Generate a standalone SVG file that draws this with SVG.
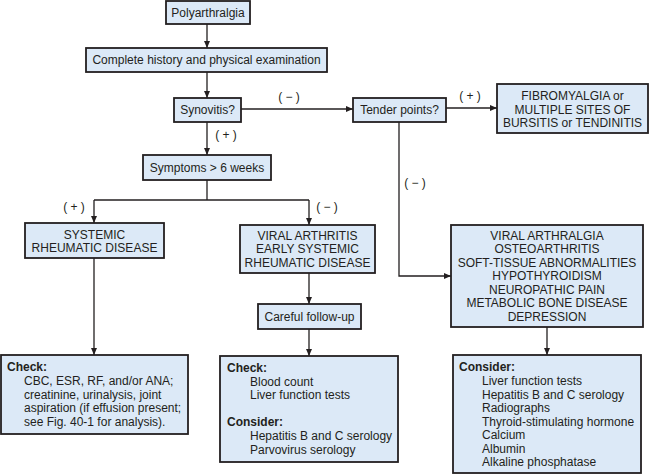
<svg xmlns="http://www.w3.org/2000/svg" width="650" height="476" viewBox="0 0 650 476">
<defs>
<marker id="ah" markerWidth="8" markerHeight="8" refX="7" refY="4" orient="auto" markerUnits="userSpaceOnUse">
<path d="M0,1 L7,4 L0,7 Z" fill="#231f20"/>
</marker>
<style>
.box{fill:#dce9f7;stroke:#231f20;stroke-width:1.8}
text{font-family:"Liberation Sans",Arial,sans-serif;font-size:12px;fill:#231f20}
.c{text-anchor:middle}
.b{font-weight:bold}
.ln{fill:none;stroke:#231f20;stroke-width:1.3}
.ar{fill:none;stroke:#231f20;stroke-width:1.3;marker-end:url(#ah)}
</style>
</defs>
<rect width="650" height="476" fill="#ffffff"/>
<g id="connectors">
<line class="ar" x1="207" y1="24" x2="207" y2="48"/>
<line class="ar" x1="207" y1="72" x2="207" y2="98"/>
<line class="ar" x1="207" y1="122" x2="207" y2="155"/>
<line class="ar" x1="241" y1="109" x2="353" y2="109"/>
<line class="ar" x1="446" y1="108" x2="497" y2="108"/>
<polyline class="ar" points="399,122 399,276 451,276"/>
<line class="ln" x1="207" y1="180" x2="207" y2="200"/>
<line class="ln" x1="94" y1="200" x2="309" y2="200"/>
<line class="ar" x1="94" y1="200" x2="94" y2="223"/>
<line class="ar" x1="309" y1="200" x2="309" y2="225"/>
<line class="ar" x1="94" y1="258" x2="94" y2="355"/>
<line class="ar" x1="309" y1="273" x2="309" y2="304"/>
<line class="ar" x1="309" y1="329" x2="309" y2="356"/>
<line class="ar" x1="547" y1="327" x2="547" y2="355"/>
<text x="289" y="101" class="c">( − )</text>
<text x="226" y="139" class="c">( + )</text>
<text x="470" y="100" class="c">( + )</text>
<text x="415" y="187" class="c">( − )</text>
<text x="74" y="211" class="c">( + )</text>
<text x="327" y="211" class="c">( − )</text>
</g>
<g id="polyarthralgia">
<rect class="box" x="166" y="1" width="84" height="23"/>
<text x="208" y="17" class="c">Polyarthralgia</text>
</g>
<g id="history">
<rect class="box" x="86" y="48" width="241" height="24"/>
<text x="206.5" y="64" class="c">Complete history and physical examination</text>
</g>
<g id="synovitis">
<rect class="box" x="174" y="98" width="67" height="24"/>
<text x="207.5" y="114" class="c">Synovitis?</text>
</g>
<g id="tender">
<rect class="box" x="353" y="98" width="93" height="24"/>
<text x="399.5" y="114" class="c">Tender points?</text>
</g>
<g id="fibromyalgia">
<rect class="box" x="497" y="84" width="151" height="49"/>
<text x="572.5" y="100" class="c">FIBROMYALGIA or</text>
<text x="572.5" y="113.5" class="c">MULTIPLE SITES OF</text>
<text x="572.5" y="127" class="c">BURSITIS or TENDINITIS</text>
</g>
<g id="symptoms">
<rect class="box" x="143" y="155" width="128" height="25"/>
<text x="207" y="172" class="c">Symptoms &gt; 6 weeks</text>
</g>
<g id="systemic">
<rect class="box" x="25" y="223" width="139" height="35"/>
<text x="94.5" y="238.5" class="c">SYSTEMIC</text>
<text x="94.5" y="252" class="c">RHEUMATIC DISEASE</text>
</g>
<g id="viral">
<rect class="box" x="240" y="225" width="135" height="48"/>
<text x="307.5" y="239.5" class="c">VIRAL ARTHRITIS</text>
<text x="307.5" y="253" class="c">EARLY SYSTEMIC</text>
<text x="307.5" y="266.5" class="c">RHEUMATIC DISEASE</text>
</g>
<g id="differential">
<rect class="box" x="451" y="225" width="192" height="102"/>
<text x="547" y="239.5" class="c">VIRAL ARTHRALGIA</text>
<text x="547" y="253" class="c">OSTEOARTHRITIS</text>
<text x="547" y="266.5" class="c">SOFT-TISSUE ABNORMALITIES</text>
<text x="547" y="280" class="c">HYPOTHYROIDISM</text>
<text x="547" y="293.5" class="c">NEUROPATHIC PAIN</text>
<text x="547" y="307" class="c">METABOLIC BONE DISEASE</text>
<text x="547" y="320.5" class="c">DEPRESSION</text>
</g>
<g id="followup">
<rect class="box" x="258" y="304" width="103" height="25"/>
<text x="309.5" y="321" class="c">Careful follow-up</text>
</g>
<g id="check-systemic">
<rect class="box" x="1" y="355" width="187" height="79"/>
<text x="7" y="371" class="b">Check:</text>
<text x="24" y="385">CBC, ESR, RF, and/or ANA;</text>
<text x="24" y="398.5">creatinine, urinalysis, joint</text>
<text x="24" y="412">aspiration (if effusion present;</text>
<text x="24" y="425.5">see Fig. 40-1 for analysis).</text>
</g>
<g id="check-viral">
<rect class="box" x="220" y="356" width="178" height="106"/>
<text x="227" y="372" class="b">Check:</text>
<text x="250" y="385.5">Blood count</text>
<text x="250" y="399">Liver function tests</text>
<text x="227" y="426" class="b">Consider:</text>
<text x="250" y="440">Hepatitis B and C serology</text>
<text x="250" y="453.5">Parvovirus serology</text>
</g>
<g id="consider-right">
<rect class="box" x="453" y="355" width="188" height="118"/>
<text x="459" y="371" class="b">Consider:</text>
<text x="482" y="385">Liver function tests</text>
<text x="482" y="398.5">Hepatitis B and C serology</text>
<text x="482" y="412">Radiographs</text>
<text x="482" y="425.5">Thyroid-stimulating hormone</text>
<text x="482" y="439">Calcium</text>
<text x="482" y="452.5">Albumin</text>
<text x="482" y="466">Alkaline phosphatase</text>
</g>
</svg>
